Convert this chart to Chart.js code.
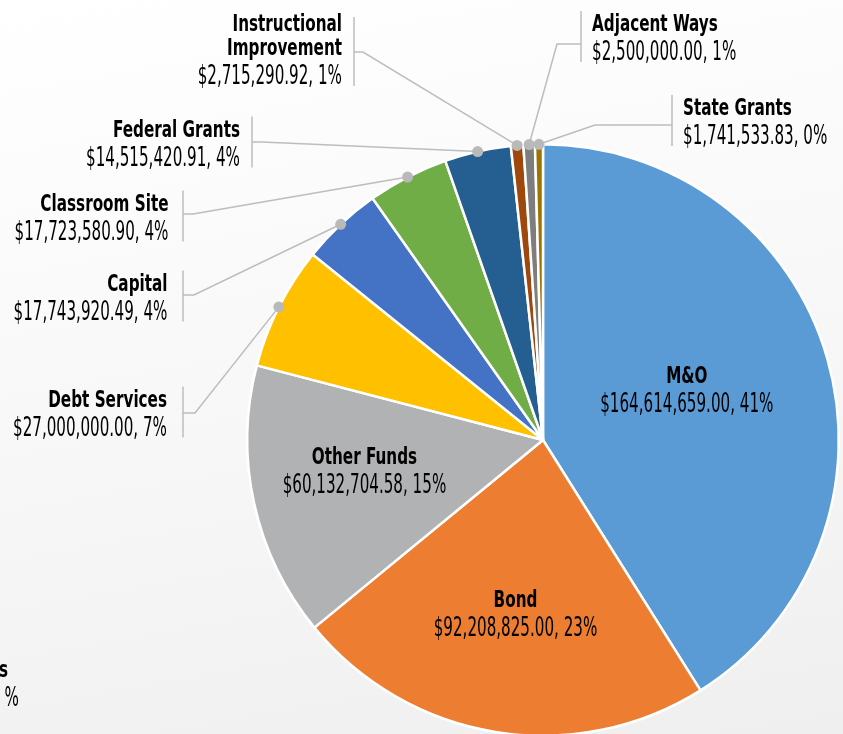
<!DOCTYPE html>
<html>
<head>
<meta charset="utf-8">
<script src="https://cdn.jsdelivr.net/npm/chart.js@4.4.1/dist/chart.umd.min.js"></script>
<style>
  html, body { margin: 0; padding: 0; width: 843px; height: 734px; overflow: hidden; }
  body { background: linear-gradient(170deg, #ffffff 0%, #f7f7f7 55%, #efefef 100%); }
  #chart { position: absolute; left: 0; top: 0; }
</style>
</head>
<body>
<canvas id="chart" width="843" height="880"></canvas>
<script>
// data
const categories = ['M&O', 'Bond', 'Other Funds', 'Debt Services', 'Capital', 'Classroom Site',
  'Federal Grants', 'Instructional Improvement', 'Adjacent Ways', 'State Grants'];
const amounts = [164614659.00, 92208825.00, 60132704.58, 27000000.00, 17743920.49, 17723580.90,
  14515420.91, 2715290.92, 2500000.00, 1741533.83];
const colors = ['#5B9BD5', '#ED7D31', '#B1B2B4', '#FFC000', '#4472C4', '#70AD47',
  '#255E91', '#9E480E', '#7E7E7E', '#9C7500'];

const FONT = '"Liberation Sans Narrow", "DejaVu Sans Condensed", "Open Sans", sans-serif';
const LINE = '#bdbdbd';

// where the labels sit (layout only)
const insideLabels = {
  'M&O': { dx: -21, dy: -3 },
  'Bond': { dx: 0, dy: 4 },
  'Other Funds': { dx: -11, dy: -7 }
};
const outsideLabels = {
  'Instructional Improvement': { lines: ['Instructional', 'Improvement'], x: 342, align: 'right', y: 30.5, bar: 354, elbow: [363, 52], barTop: 17 },
  'Adjacent Ways': { lines: ['Adjacent Ways'], x: 592, align: 'left', y: 31, bar: 581, elbow: [557, 44] },
  'State Grants': { lines: ['State Grants'], x: 683, align: 'left', y: 115, bar: 672, elbow: [595, 125] },
  'Federal Grants': { lines: ['Federal Grants'], x: 240, align: 'right', y: 136.5, bar: 252, elbow: [262, 142] },
  'Classroom Site': { lines: ['Classroom Site'], x: 168.5, align: 'right', y: 210.5, bar: 183, elbow: [193, 214] },
  'Capital': { lines: ['Capital'], x: 167.5, align: 'right', y: 290.5, bar: 183, elbow: [194, 295] },
  'Debt Services': { lines: ['Debt Services'], x: 167, align: 'right', y: 406.5, bar: 183, elbow: [195, 413] }
};

const total = amounts.reduce((a, b) => a + b, 0);

function money(v) {
  const parts = v.toFixed(2).split('.');
  parts[0] = parts[0].replace(/\B(?=(\d{3})+(?!\d))/g, ',');
  return '$' + parts[0] + '.' + parts[1];
}
function valueText(i) {
  return money(amounts[i]) + ', ' + Math.round(amounts[i] / total * 100) + '%';
}

let boldScale = 1, valScale = 1;
function fitScales(ctx) {
  ctx.font = 'bold 23px ' + FONT;
  boldScale = 127 / ctx.measureText('Federal Grants').width;
  ctx.font = '27px ' + FONT;
  valScale = 154 / ctx.measureText('$14,515,420.91, 4%').width;
}
function drawText(ctx, str, x, y, align, bold) {
  ctx.save();
  ctx.font = (bold ? 'bold 23px ' : '27px ') + FONT;
  ctx.fillStyle = '#000';
  ctx.textAlign = align;
  ctx.textBaseline = 'alphabetic';
  ctx.translate(x, y);
  ctx.scale(bold ? boldScale : valScale, 1);
  ctx.fillText(str, 0, 0);
  ctx.restore();
}

const labelPlugin = {
  id: 'pieLabels',
  afterDatasetsDraw(chart) {
    const ctx = chart.ctx;
    fitScales(ctx);
    const arcs = chart.getDatasetMeta(0).data;
    const dots = [];
    arcs.forEach((arc, i) => {
      const name = categories[i];
      const mid = (arc.startAngle + arc.endAngle) / 2;
      if (insideLabels[name]) {
        const d = arc.outerRadius * 0.58;
        const cx = arc.x + Math.cos(mid) * d + insideLabels[name].dx;
        const cy = arc.y + Math.sin(mid) * d + insideLabels[name].dy;
        drawText(ctx, name, cx, cy - 6, 'center', true);
        drawText(ctx, valueText(i), cx, cy + 23, 'center', false);
        return;
      }
      const lab = outsideLabels[name];
      if (!lab) return;
      const px = arc.x + Math.cos(mid) * arc.outerRadius;
      const py = arc.y + Math.sin(mid) * arc.outerRadius;
      dots.push([px, py]);
      const lastY = lab.y + (lab.lines.length - 1) * 24.5 + 29;
      ctx.save();
      ctx.strokeStyle = LINE;
      ctx.lineWidth = 1.5;
      ctx.beginPath();
      ctx.moveTo(lab.bar, lab.barTop || lab.y - 20);
      ctx.lineTo(lab.bar, lastY + 2);
      ctx.moveTo(lab.bar, lab.elbow[1]);
      ctx.lineTo(lab.elbow[0], lab.elbow[1]);
      ctx.lineTo(px, py);
      ctx.stroke();
      ctx.restore();
      lab.lines.forEach((t, k) => drawText(ctx, t, lab.x, lab.y + k * 24.5, lab.align, true));
      drawText(ctx, valueText(i), lab.x, lastY, lab.align, false);
    });
    ctx.save();
    ctx.fillStyle = '#b9b9b9';
    dots.forEach(([x, y]) => {
      ctx.beginPath();
      ctx.arc(x, y, 5.5, 0, Math.PI * 2);
      ctx.fill();
    });
    ctx.restore();
    // label of a neighbouring chart, cut off at the left edge
    drawText(ctx, 's', 8, 677, 'right', true);
    drawText(ctx, '%', 19, 706, 'right', false);
  }
};

new Chart(document.getElementById('chart'), {
  type: 'pie',
  data: {
    labels: categories,
    datasets: [{
      data: amounts,
      backgroundColor: colors,
      borderColor: '#ffffff',
      borderWidth: 2.5
    }]
  },
  options: {
    responsive: false,
    animation: false,
    layout: { padding: { left: 246, right: 3, top: 143, bottom: 143 } },
    plugins: {
      legend: { display: false },
      tooltip: { enabled: false }
    }
  },
  plugins: [labelPlugin]
});
</script>
</body>
</html>
